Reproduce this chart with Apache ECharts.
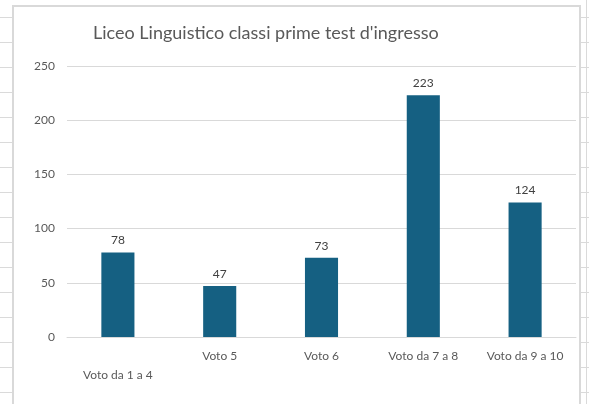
<!DOCTYPE html>
<html>
<head>
<meta charset="utf-8">
<script src="https://cdn.jsdelivr.net/npm/echarts@6/dist/echarts.min.js"></script>
<style>
  html, body { margin: 0; padding: 0; }
  body {
    width: 589px; height: 404px; overflow: hidden; position: relative;
    background-color: #fff;
    background-image:
      linear-gradient(to right, transparent 586px, #dadada 586px, #dadada 587px, transparent 587px),
      repeating-linear-gradient(to bottom, transparent 0, transparent 24px, #dadada 24px, #dadada 25px);
    background-position: 0 0, 0 -7px;
  }
  #chart {
    position: absolute; left: 12px; top: 5px; width: 569px; height: 410px;
    background: #fff; border: 2px solid #d9d9d9; box-sizing: border-box;
  }
</style>
</head>
<body>
<div id="chart"></div>
<script>
  // dati
  var categorie = ['Voto da 1 a 4', 'Voto 5', 'Voto 6', 'Voto da 7 a 8', 'Voto da 9 a 10'];
  var valori = [78, 47, 73, 223, 124];
  var yMax = 250;
  var yStep = 50;

  var font = 'Lato, "Open Sans", sans-serif';
  var myChart = echarts.init(document.getElementById('chart'));
  var option = {
    animation: false,
    title: {
      text: 'Liceo Linguistico classi prime test d\'ingresso',
      left: 74,
      top: 12,
      textStyle: { fontFamily: font, fontSize: 18, fontWeight: 'normal', color: '#595959' }
    },
    grid: { left: 53, right: 3, top: 59, bottom: 76, containLabel: false },
    xAxis: {
      type: 'category',
      data: categorie,
      axisLine: { lineStyle: { color: '#d9d9d9', width: 1 } },
      axisTick: { show: false },
      axisLabel: {
        interval: 0,
        margin: 10,
        fontFamily: font, fontSize: 12, color: '#595959', lineHeight: 19,
        formatter: function (v, i) { return i === 0 ? '\n' + v : v; }
      }
    },
    yAxis: {
      type: 'value',
      min: 0, max: yMax, interval: yStep,
      axisLine: { show: false },
      axisTick: { show: false },
      axisLabel: { margin: 12, fontFamily: font, fontSize: 12, color: '#595959' },
      splitLine: { lineStyle: { color: '#d9d9d9', width: 1 } }
    },
    series: [{
      type: 'bar',
      data: valori,
      barWidth: '32.5%',
      itemStyle: { color: '#156082' },
      label: {
        show: true, position: 'top', distance: 6,
        fontFamily: font, fontSize: 12, color: '#404040'
      }
    }]
  };
  myChart.setOption(option);
</script>
</body>
</html>
